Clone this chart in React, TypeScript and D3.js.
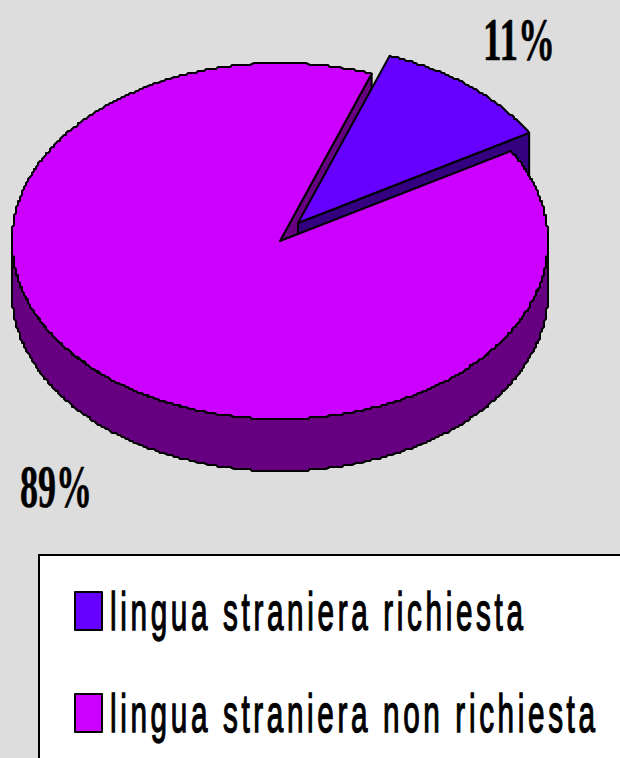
import React from "react";
import * as d3 from "d3";

const categories = ["lingua straniera richiesta", "lingua straniera non richiesta"];
const values = [11, 89];
const percentLabels = ["11%", "89%"];
const topColors = ["#6600FF", "#CC00FF"];
const sideColors = ["#330080", "#660080"];

const W = 620, H = 758;
const cx = 280, cy = 241, rx = 268, ry = 178, depth = 52;
const explode = { x: 18, y: -18 };
const startDeg = 20;
const grid = 2;

const pieGen = d3.pie<number>().sort(null)
  .startAngle((startDeg * Math.PI) / 180)
  .endAngle(((startDeg + 360) * Math.PI) / 180);
const slices = pieGen(values);

const snap = (v: number) => Math.round(v / grid) * grid;
const px = (a: number) => rx * Math.sin(a);
const py = (a: number) => -ry * Math.cos(a);

function arcPoints(a0: number, a1: number, dy = 0): [number, number][] {
  const n = Math.ceil(Math.abs(a1 - a0) / 0.01);
  return d3.range(n + 1).map((i) => {
    const a = a0 + ((a1 - a0) * i) / n;
    const end = i === 0 || i === n;
    return [end ? px(a) : snap(px(a)), (end ? py(a) : snap(py(a))) + dy] as [number, number];
  });
}
function topPath(a0: number, a1: number) {
  return d3.line()([[0, 0], ...arcPoints(a0, a1)]) + "Z";
}
function wallPath(a0: number, a1: number) {
  return d3.line()([...arcPoints(a0, a1), ...arcPoints(a0, a1, depth).reverse()]) + "Z";
}
function cutPath(a: number) {
  const pts: [number, number][] = [[0, 0], [px(a), py(a)], [px(a), py(a) + depth], [0, depth]];
  return d3.line()(pts) + "Z";
}

const legendY = d3.scalePoint<string>().domain(categories).range([630, 732]);
const legendWidths = [413, 485];
const glyphScale = 0.56;
const serif = "'Liberation Serif', serif";
const sans = "'Liberation Sans', sans-serif";
const stroke = { stroke: "#000", strokeWidth: 2, strokeLinejoin: "round" as const };

export default function App() {
  const [blue, magenta] = slices;
  return (
    <svg width={W} height={H} viewBox={`0 0 ${W} ${H}`} style={{ position: "absolute", left: 0, top: 0, display: "block" }}>
      <rect width={W} height={H} fill="#DDDDDD" />
      <g transform={`translate(${cx},${cy})`}>
        <path d={cutPath(magenta.endAngle)} fill={sideColors[1]} {...stroke} />
        <path d={wallPath(Math.PI / 2, (3 * Math.PI) / 2)} fill={sideColors[1]} {...stroke} />
      </g>
      <g transform={`translate(${cx + explode.x},${cy + explode.y})`}>
        <path d={cutPath(blue.endAngle)} fill={sideColors[0]} {...stroke} />
        <path d={topPath(blue.startAngle, blue.endAngle)} fill={topColors[0]} {...stroke} />
      </g>
      <g transform={`translate(${cx},${cy})`}>
        <path d={topPath(magenta.startAngle, magenta.endAngle)} fill={topColors[1]} {...stroke} />
      </g>
      <text x={483} y={60} fontFamily={serif} fontWeight="bold" fontSize={62} textLength={72} lengthAdjust="spacingAndGlyphs" stroke="#000" strokeWidth={0.6}>{percentLabels[0]}</text>
      <text x={20} y={507} fontFamily={serif} fontWeight="bold" fontSize={62} textLength={72} lengthAdjust="spacingAndGlyphs" stroke="#000" strokeWidth={0.6}>{percentLabels[1]}</text>
      <rect x={39} y={555} width={W} height={H} fill="#fff" stroke="#000" strokeWidth={2} />
      {categories.map((c, i) => {
        const y = legendY(c)!;
        return (
          <g key={c}>
            <rect x={75} y={y - 38} width={27} height={38} fill={topColors[i]} {...stroke} />
            <text transform={`translate(110,${y}) scale(${glyphScale},1)`} fontFamily={sans} fontSize={53} textLength={legendWidths[i] / glyphScale} lengthAdjust="spacing" fill="#000" stroke="#000" strokeWidth={1.4}>{c}</text>
          </g>
        );
      })}
    </svg>
  );
}
